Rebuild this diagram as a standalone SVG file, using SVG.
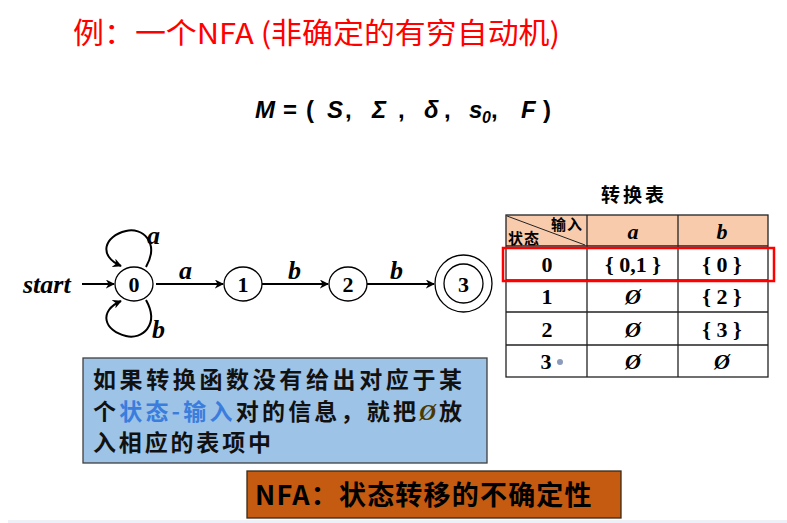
<svg xmlns="http://www.w3.org/2000/svg" width="787" height="523" viewBox="0 0 787 523">
<defs>
<marker id="arr" viewBox="0 0 10 10" refX="9" refY="5" markerWidth="9" markerHeight="9" markerUnits="userSpaceOnUse" orient="auto">
<path d="M0,0 L10,5 L0,10 L3,5 z" fill="#000"/>
</marker>
<style>
.lbl{font-family:"Liberation Serif","Times New Roman",serif;font-weight:bold;font-style:italic;font-size:26px;fill:#000}
.num{font-family:"Liberation Serif","Times New Roman",serif;font-weight:bold;font-size:22px;fill:#000;text-anchor:middle}
.cell{font-family:"Liberation Serif","Times New Roman",serif;font-weight:bold;font-size:22px;fill:#000;text-anchor:middle}
.cjk{font-family:"Noto Sans CJK SC",sans-serif;font-weight:bold}
.node{fill:#fff;stroke:#000;stroke-width:1.3}
.edge{fill:none;stroke:#000;stroke-width:2;marker-end:url(#arr)}
.grid{stroke:#222;stroke-width:1.3;fill:none}
</style>
</defs>
<rect width="787" height="523" fill="#fff"/>
<rect x="8" y="520" width="779" height="3" fill="#eef0f8"/>

<g id="title">
<text x="73" y="44" font-family="'Noto Sans CJK SC',sans-serif" font-size="29" fill="#ff0000" textLength="487" lengthAdjust="spacingAndGlyphs">例：一个NFA (非确定的有穷自动机)</text>
</g>

<g id="formula" font-family="'Liberation Sans',Arial,sans-serif" font-weight="bold" font-style="italic" font-size="24" fill="#000">
<text y="118"><tspan x="255">M</tspan><tspan x="283" font-style="normal">=</tspan><tspan x="306" font-style="normal">(</tspan><tspan x="327">S</tspan><tspan x="345" font-style="normal">,</tspan><tspan x="372">Σ</tspan><tspan x="398" font-style="normal">,</tspan><tspan x="424">δ</tspan><tspan x="444" font-style="normal">,</tspan><tspan x="469">s</tspan><tspan x="482" dy="5" font-size="16">0</tspan><tspan x="491" dy="-5" font-style="normal">,</tspan><tspan x="521">F</tspan><tspan x="543" font-style="normal">)</tspan></text>
</g>

<g id="connectors">
<text class="lbl" x="23" y="293">start</text>
<line class="edge" x1="82" y1="284" x2="114" y2="284"/>
<path class="edge" d="M146 267 C160 242,142 227,126 231 C104 236,98 256,121 266"/>
<text class="lbl" x="147" y="244">a</text>
<path class="edge" d="M146 300 C160 325,142 340,126 336 C104 331,98 311,121 301"/>
<text class="lbl" x="152" y="338">b</text>
<line class="edge" x1="156" y1="284" x2="223" y2="284"/>
<text class="lbl" x="179" y="279">a</text>
<line class="edge" x1="262" y1="284" x2="328" y2="284"/>
<text class="lbl" x="288" y="279">b</text>
<line class="edge" x1="367" y1="284" x2="434" y2="284"/>
<text class="lbl" x="390" y="279">b</text>
</g>

<g id="node0"><ellipse class="node" cx="134" cy="284" rx="19" ry="17"/><text class="num" x="134" y="292">0</text></g>
<g id="node1"><ellipse class="node" cx="243" cy="284" rx="19" ry="17"/><text class="num" x="243" y="292">1</text></g>
<g id="node2"><ellipse class="node" cx="348" cy="284" rx="19" ry="17"/><text class="num" x="348" y="292">2</text></g>
<g id="node3"><circle class="node" cx="463.5" cy="283.5" r="28.5"/><circle class="node" cx="463.5" cy="283.5" r="19.5"/><text class="num" x="463.5" y="291.5">3</text></g>

<g id="table">
<text class="cjk" x="634" y="202" font-size="19" text-anchor="middle" letter-spacing="3">转换表</text>
<rect x="506" y="215" width="262" height="31" fill="#f8cbad"/>
<line x1="507" y1="216" x2="585" y2="245" stroke="#222" stroke-width="1"/>
<text class="cjk" x="551" y="230" font-size="15" letter-spacing="1">输入</text>
<text class="cjk" x="508" y="244" font-size="15" letter-spacing="1">状态</text>
<text class="cell" x="633" y="239" font-style="italic">a</text>
<text class="cell" x="722" y="239" font-style="italic">b</text>
<rect class="grid" x="506" y="215" width="262" height="162"/>
<line class="grid" x1="587" y1="215" x2="587" y2="377"/>
<line class="grid" x1="678" y1="215" x2="678" y2="377"/>
<line class="grid" x1="506" y1="246" x2="768" y2="246"/>
<line class="grid" x1="506" y1="280" x2="768" y2="280"/>
<line class="grid" x1="506" y1="312" x2="768" y2="312"/>
<line class="grid" x1="506" y1="345" x2="768" y2="345"/>
<text class="cell" x="547" y="272">0</text>
<text class="cell" x="633" y="272">{ 0,1 }</text>
<text class="cell" x="722" y="272">{ 0 }</text>
<text class="cell" x="547" y="304">1</text>
<text class="cell" x="633" y="304" font-style="italic">Ø</text>
<text class="cell" x="722" y="304">{ 2 }</text>
<text class="cell" x="547" y="337">2</text>
<text class="cell" x="633" y="337" font-style="italic">Ø</text>
<text class="cell" x="722" y="337">{ 3 }</text>
<text class="cell" x="546" y="369">3</text>
<circle cx="560" cy="362" r="3" fill="#8a9bbb"/>
<text class="cell" x="633" y="369" font-style="italic">Ø</text>
<text class="cell" x="722" y="369" font-style="italic">Ø</text>
<rect x="503" y="248" width="271" height="33" fill="none" stroke="#ff0000" stroke-width="2.5"/>
</g>

<g id="note">
<rect x="83" y="358" width="404" height="105" fill="#9dc3e6" stroke="#404040" stroke-width="1.3"/>
<text class="cjk" font-size="23" fill="#111" x="93" y="388" textLength="369" lengthAdjust="spacing">如果转换函数没有给出对应于某</text>
<text class="cjk" font-size="23" fill="#111" x="93" y="420" textLength="369" lengthAdjust="spacing">个<tspan fill="#3b7ddd">状态-输入</tspan>对的信息，就把<tspan font-family="'Liberation Serif',serif" font-style="italic" fill="#4a3a00">Ø</tspan>放</text>
<text class="cjk" font-size="23" fill="#111" x="93" y="451" textLength="178" lengthAdjust="spacing">入相应的表项中</text>
</g>

<g id="summary">
<rect x="247" y="471" width="374" height="47" fill="#c55a11" stroke="#3a2a1a" stroke-width="1.3"/>
<text class="cjk" x="255" y="505" font-size="27" letter-spacing="1.2" fill="#000">NFA：状态转移的不确定性</text>
</g>
</svg>
